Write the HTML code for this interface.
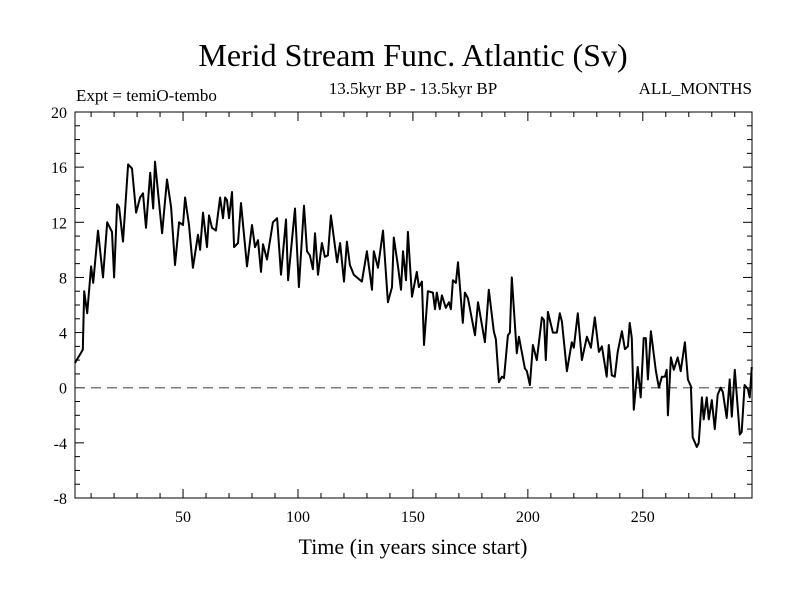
<!DOCTYPE html>
<html><head><meta charset="utf-8"><style>
body{margin:0;background:#fff;}
svg text{font-family:"Liberation Serif",serif;fill:#000;}
</style></head><body>
<svg id="chart" width="800" height="600" xmlns="http://www.w3.org/2000/svg">
<text x="413" y="66" font-size="32" text-anchor="middle">Merid Stream Func. Atlantic (Sv)</text>
<text x="76" y="101" font-size="17">Expt = temiO-tembo</text>
<text x="413" y="94" font-size="17" text-anchor="middle">13.5kyr BP - 13.5kyr BP</text>
<text x="752" y="94" font-size="17" text-anchor="end">ALL_MONTHS</text>
<text x="413" y="554" font-size="22" text-anchor="middle">Time (in years since start)</text>
<g id="ticks"></g>
<line id="zero" stroke="#666" stroke-width="1.2" stroke-dasharray="10,6"/>
<path id="series" fill="none" stroke="#000" stroke-width="2" stroke-linejoin="round"/>
<rect x="75" y="112" width="677" height="386" fill="none" stroke="#000" stroke-width="1"/>
</svg>
<script>
const years=[3.0,6.4,7.0,8.3,10.0,10.9,13.0,15.2,17.0,19.1,20.0,21.3,22.2,23.9,26.1,27.8,29.6,31.3,32.6,33.9,35.7,37.0,37.8,40.9,43.0,44.8,46.5,48.3,50,50.9,52.6,
54.3,56.5,57.4,58.7,60.4,61.3,62.6,64.3,66.1,67.4,68.3,69.1,70.0,71.3,72.2,73.9,75.2,77.8,80.0,81.3,82.6,83.9,84.8,86.5,89.1,90.9,92.6,94.8,95.7,98.7,100.4,
102.6,103.9,105.2,106.5,107.4,108.7,110.4,111.7,113.0,114.3,117.0,118.3,120.0,121.3,122.6,124.3,127.8,130.0,132.2,133.0,134.8,137.0,139.1,140.9,141.7,143.5,144.8,145.7,147.0,147.8,149.6,
151.7,152.6,153.9,154.8,156.5,158.7,159.6,160.4,161.7,162.6,164.3,165.7,166.5,167.4,168.7,169.6,171.7,172.6,173.9,177.0,178.3,181.3,183.0,185.2,186.1,187.4,188.7,189.6,191.3,192.2,193.0,195.2,196.1,198.7,199.6,
200.9,202.2,203.9,206.1,207.0,207.8,208.7,210.9,212.6,213.9,214.8,217.0,219.1,220.0,221.7,223.5,225.7,227.4,229.1,230.9,232.2,234.3,235.2,236.5,237.8,239.1,240.9,242.2,243.5,244.3,245.2,246.1,247.8,249.1,250.4,
251.3,252.2,253.5,255.7,257.0,258.3,259.6,260.4,260.9,262.2,263.5,265.2,266.5,268.3,269.6,270.9,271.7,273.5,274.3,275.7,276.5,277.8,278.7,280.0,281.3,282.6,283.9,284.8,286.5,287.8,288.7,290.0,292.2,293.0,294.3,295.7,296.5,297.4];
const values=[1.8,2.75,7.0,5.4,8.8,7.6,11.4,8.0,12.0,11.3,8.0,13.3,13.1,10.6,16.2,15.9,12.7,13.8,14.1,11.6,15.6,13.0,16.4,11.2,15.1,13.1,8.9,12.0,11.8,13.8,11.8,
8.7,11.1,10.0,12.7,10.2,12.5,11.6,11.4,13.8,12.3,13.8,13.6,12.3,14.2,10.2,10.5,13.4,8.8,11.8,10.2,10.7,8.4,10.4,9.3,12.0,12.3,8.2,12.2,7.8,13.0,7.3,
13.2,9.9,9.6,8.6,11.2,8.2,10.5,9.5,9.6,12.5,9.1,10.5,7.7,10.6,8.9,8.2,7.7,9.9,7.1,9.9,8.7,11.4,6.2,7.3,10.9,8.8,7.1,9.9,7.8,11.3,6.6,
8.4,7.3,7.7,3.1,7.0,6.9,5.7,6.9,5.7,6.7,5.8,6.2,5.7,7.8,7.6,9.1,4.7,6.9,6.5,3.8,6.2,3.3,7.1,4.1,3.5,0.4,0.8,0.7,3.8,4.0,8.0,2.5,3.7,1.4,1.2,
0.2,3.1,2.0,5.1,4.9,2.0,5.5,4.0,4.0,5.4,4.8,1.2,3.3,2.9,5.4,2.0,3.7,2.9,5.1,2.6,3.0,0.8,3.1,0.9,0.8,2.6,4.1,2.8,3.0,4.7,3.6,-1.6,1.5,-0.7,3.6,
3.6,0.6,4.1,1.2,0,0.8,0.8,1.3,-2.0,2.2,1.3,2.2,1.2,3.3,0.6,0.1,-3.6,-4.3,-4.0,-0.7,-2.3,-0.7,-2.3,-0.9,-3.0,-0.5,0,-0.3,-2.2,0.6,-2.1,1.3,-3.4,-3.2,0.2,-0.1,-0.7,1.5];
const yTicks=[-8,-4,0,4,8,12,16,20];
const xTicks=[50,100,150,200,250];
const X0=75,X1=752,Y0=498,Y1=112,XMIN=3,XMAX=297.5,YMIN=-8,YMAX=20;
const sx=v=>X0+(v-XMIN)/(XMAX-XMIN)*(X1-X0);
const sy=v=>Y0-(v-YMIN)/(YMAX-YMIN)*(Y0-Y1);
const NS="http://www.w3.org/2000/svg";
const g=document.getElementById('ticks');
function ln(x1,y1,x2,y2,name){const l=document.createElementNS(NS,'line');l.setAttribute('x1',x1);l.setAttribute('y1',y1);l.setAttribute('x2',x2);l.setAttribute('y2',y2);l.setAttribute('stroke','#000');


g.appendChild(l);}
function tx(x,y,s,anchor,name){const t=document.createElementNS(NS,'text');t.setAttribute('x',x);t.setAttribute('y',y);t.setAttribute('font-size','16');t.setAttribute('text-anchor',anchor);t.textContent=s;


g.appendChild(t);}
for(let v=YMIN;v<=YMAX;v++){const y=sy(v);const L=(v%4===0)?9:5;ln(X0,y,X0+L,y,'y-tick');ln(X1,y,X1-L,y,'y-tick');}
yTicks.forEach(v=>tx(X0-8,sy(v)+6,String(v),'end','y-tick-label'));
for(let v=10;v<=XMAX;v+=10){const x=sx(v);const L=(v%50===0)?9:5;ln(x,Y0,x,Y0-L,'x-tick');ln(x,Y1,x,Y1+L,'x-tick');}
xTicks.forEach(v=>tx(sx(v),Y0+24,String(v),'middle','x-tick-label'));
const z=document.getElementById('zero');z.setAttribute('x1',X0);z.setAttribute('x2',X1);z.setAttribute('y1',sy(0));z.setAttribute('y2',sy(0));
document.getElementById('series').setAttribute('d',years.map((yr,i)=>(i?'L':'M')+sx(yr).toFixed(1)+','+sy(values[i]).toFixed(1)).join(''));
</script>
</body></html>
